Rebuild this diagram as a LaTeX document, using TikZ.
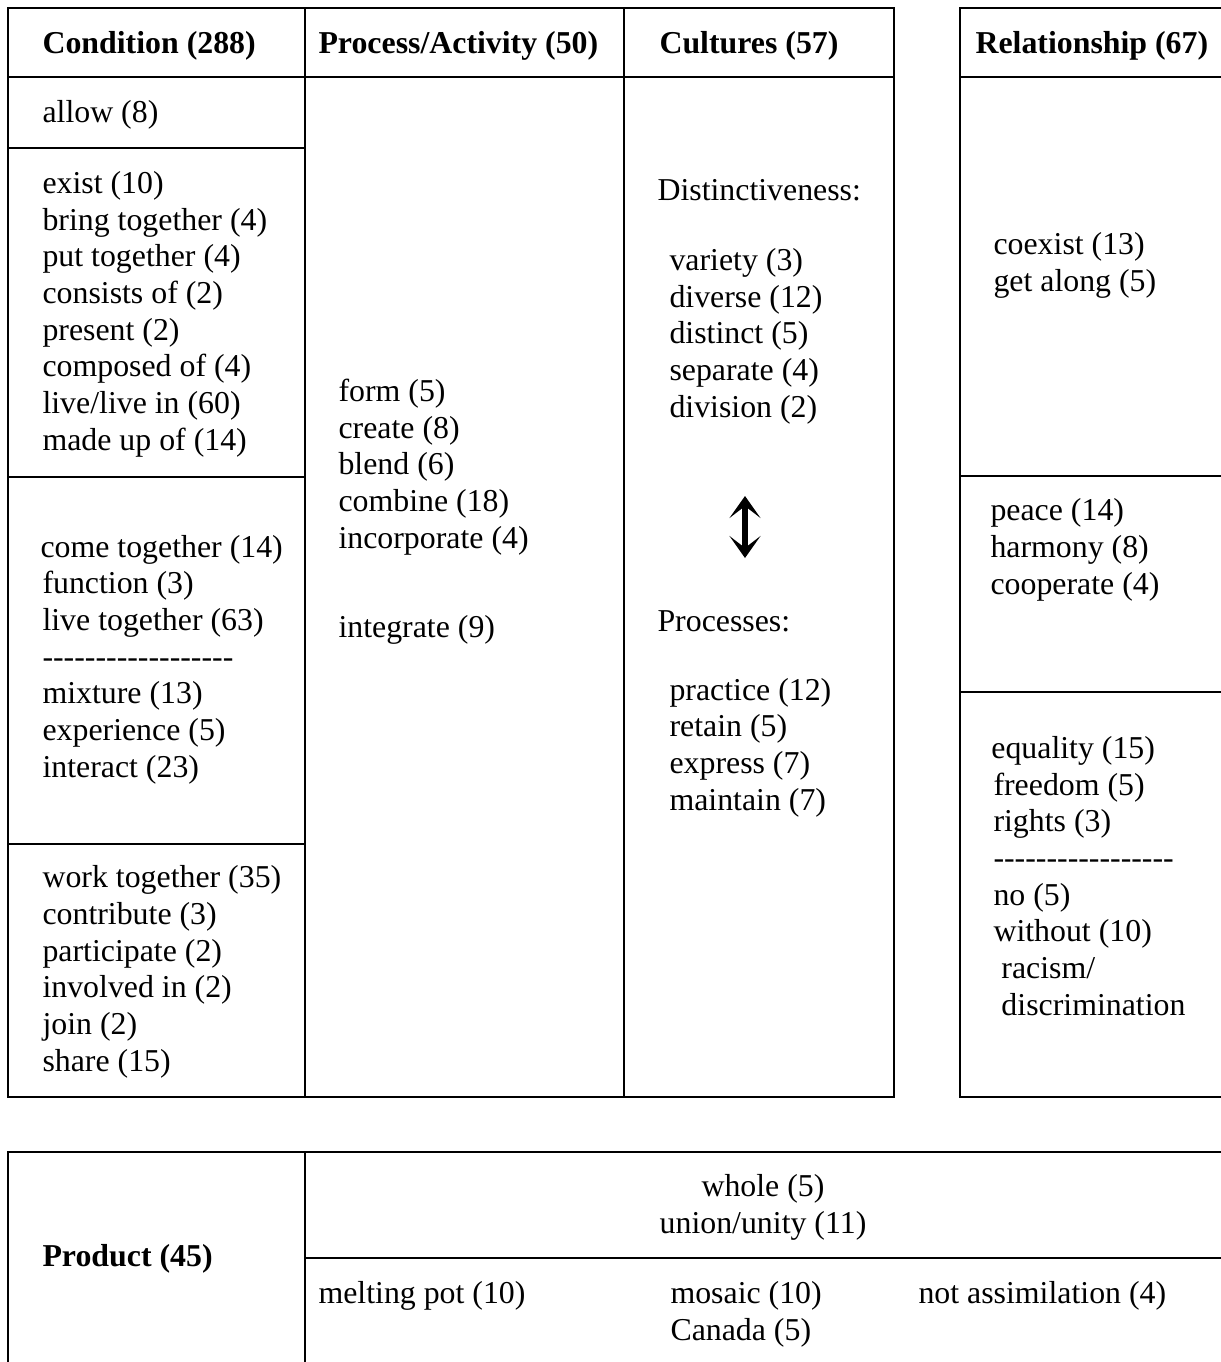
\documentclass[tikz,border=0pt]{standalone}
\usepackage{fontspec}
\setmainfont{Liberation Serif}
\usetikzlibrary{arrows.meta}

% a row of single hyphens (no TeX dash ligatures)
\newcommand{\dashrow}[1]{\foreach \k in {1,...,#1}{-}}

\begin{document}
\begin{tikzpicture}[x=0.013251cm,y=-0.013251cm,
    >={Stealth[length=8.3pt,width=11.7pt,inset=4.5pt]},
    rule/.style={line width=1.1pt},
    cell/.style={anchor=base west,align=left,inner sep=0pt,
      font=\fontsize{12}{13.8}\selectfont},
    head/.style={cell,font=\fontsize{12}{13.8}\selectfont\bfseries}]
  \useasboundingbox (0,0) rectangle (1221,1362);
  \clip (0,0) rectangle (1221,1362);

  % upper table
  \draw[rule] (8,8) rectangle (894,1097);
  \draw[rule] (960,8) rectangle (1260,1097);
  \draw[rule] (8,77) -- (894,77) (960,77) -- (1260,77);
  \draw[rule] (305,8) -- (305,1097) (624,8) -- (624,1097);
  \draw[rule] (8,148) -- (305,148) (8,477) -- (305,477) (8,844) -- (305,844);
  \draw[rule] (960,476) -- (1260,476) (960,692) -- (1260,692);

  % lower table
  \draw[rule] (8,1152) rectangle (1260,1400);
  \draw[rule] (305,1152) -- (305,1400) (305,1258) -- (1260,1258);

  % headings (base = baseline of the last line)
  \node[head] (cond) at (42,53)  {Condition (288)};
  \node[head] (proc) at (318,53) {Process/Activity (50)};
  \node[head] (cult) at (659,53) {Cultures (57)};
  \node[head] (rel)  at (975,53) {Relationship (67)};

  % condition
  \node[cell] (allow) at (42,122) {allow (8)};
  \node[cell] (exist) at (42,450) {exist (10)\\bring together (4)\\put together (4)\\
    consists of (2)\\present (2)\\composed of (4)\\live/live in (60)\\made up of (14)};
  \node[cell] (come) at (42,777) {\kern-0.75pt come together (14)\\function (3)\\
    live together (63)\\\dashrow{18}\\mixture (13)\\experience (5)\\interact (23)};
  \node[cell] (work) at (42,1071) {work together (35)\\contribute (3)\\participate (2)\\
    involved in (2)\\join (2)\\share (15)};

  % process/activity
  \node[cell] (form) at (338,548) {form (5)\\create (8)\\blend (6)\\combine (18)\\incorporate (4)};
  \node[cell] (integ) at (338,637) {integrate (9)};

  % cultures
  \node[cell] (dist) at (657,200) {Distinctiveness:};
  \node[cell] (vari) at (669,417) {variety (3)\\diverse (12)\\distinct (5)\\separate (4)\\division (2)};
  \coordinate (up) at (745,496);
  \coordinate (dn) at (745,558);
  \draw[line width=2pt,<->] (up) -- (dn);
  \node[cell] (procs) at (657,631) {Processes:};
  \node[cell] (prac) at (669,810) {practice (12)\\retain (5)\\express (7)\\maintain (7)};

  % relationship
  \node[cell] (coex) at (993,291) {coexist (13)\\get along (5)};
  \node[cell] (peace) at (990,594) {peace (14)\\harmony (8)\\cooperate (4)};
  \node[cell] (equal) at (993,1015) {\kern-0.8pt equality (15)\\freedom (5)\\rights (3)\\
    \dashrow{17}\\no (5)\\without (10)\\\hspace*{3pt}racism/\\\hspace*{3pt}discrimination};

  % product
  \node[head] (prod) at (42,1266) {Product (45)};
  \node[cell,align=center,anchor=base] (whole) at (763,1233) {whole (5)\\union/unity (11)};
  \node[cell] (melt) at (318,1303) {melting pot (10)};
  \node[cell] (mosaic) at (670,1340) {mosaic (10)\\Canada (5)};
  \node[cell] (notass) at (918,1303) {not assimilation (4)};
\end{tikzpicture}
\end{document}
